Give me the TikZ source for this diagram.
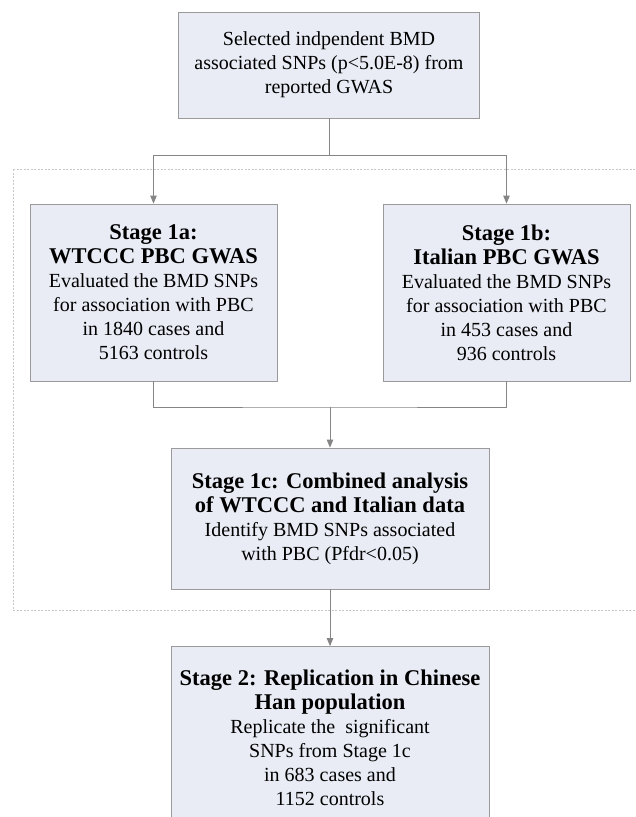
\documentclass[tikz,border=0pt]{standalone}
\usepackage{fontspec}
\setmainfont{Liberation Serif}
\usepackage{xcolor}
\usepackage{tikz}
\usetikzlibrary{arrows}

\definecolor{boxfill}{HTML}{E9ECF5}
\definecolor{boxline}{HTML}{9A9A9A}
\definecolor{wire}{HTML}{858585}
\definecolor{frameline}{HTML}{C8C8C8}

\newcommand{\hd}[1]{{\fontsize{22.5}{24}\selectfont\bfseries #1}}

\tikzset{
  box/.style={draw=boxline, fill=boxfill, line width=0.9pt, align=center,
    inner sep=0pt, font=\fontsize{20}{24}\selectfont},
  wire/.style={draw=wire, line width=0.8pt},
  arr/.style={wire, -triangle 45}
}

\begin{document}
\begin{tikzpicture}[x=1pt,y=-1pt]
\clip (0,0) rectangle (635,817);
% outer frame round stage 1
\draw[frameline, line width=0.6pt, dash pattern=on 2pt off 1.5pt] (13,169) rectangle (660,610);

\node[box, minimum width=301pt, minimum height=106pt] (sel) at (329,65)
  {Selected indpendent BMD\\associated SNPs (p<5.0E-8) from\\reported GWAS};
\node[box, minimum width=247pt, minimum height=177pt] (s1a) at (153.5,292.5)
  {\hd{Stage 1a:}\\\hd{WTCCC PBC GWAS}\\Evaluated the BMD SNPs\\for association with PBC\\in 1840 cases and\\5163 controls};
\node[box, minimum width=247pt, minimum height=177pt] (s1b) at (506.5,292.5)
  {\hd{Stage 1b:}\\\hd{Italian PBC GWAS}\\Evaluated the BMD SNPs\\for association with PBC\\in 453 cases and\\936 controls};
\node[box, minimum width=318pt, minimum height=141pt] (s1c) at (330,518.5)
  {\hd{Stage 1c: Combined analysis}\\\hd{of WTCCC and Italian data}\\Identify BMD SNPs associated\\with PBC (Pfdr<0.05)};
\node[box, anchor=north, minimum width=318pt, minimum height=182pt] (s2) at (330,646)
  {\hd{Stage 2: Replication in Chinese}\\\hd{Han population}\\Replicate the\ \ significant\\SNPs from Stage 1c\\in 683 cases and\\1152 controls};

\coordinate (split) at (329,155);
\coordinate (join) at (330,407);

\draw[wire] (sel.south) -- (split);
\draw[arr] (split) -| (s1a.north);
\draw[arr] (split) -| (s1b.north);
\draw[wire] (s1a.south) |- (join) -| (s1b.south);
\draw[arr] (join) -- (s1c.north);
\draw[arr] (s1c.south) -- (s2.north);
\end{tikzpicture}
\end{document}
